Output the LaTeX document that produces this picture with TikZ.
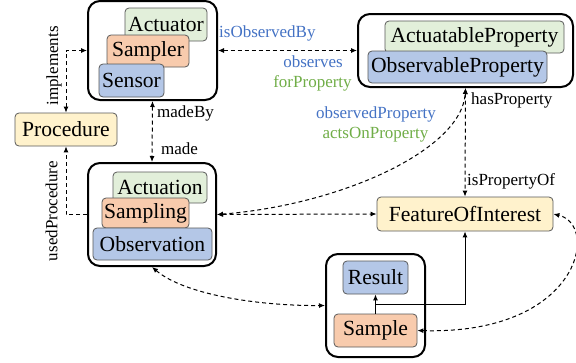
\documentclass[tikz,border=0pt]{standalone}
\usepackage{fontspec}
\setmainfont{Liberation Serif}
\newfontfamily\classfont{Liberation Serif}
\usetikzlibrary{arrows.meta,calc}
\definecolor{actGreen}{HTML}{E2EFDA}
\definecolor{smpOrange}{HTML}{F8CBAD}
\definecolor{obsBlue}{HTML}{B4C7E7}
\definecolor{procYellow}{HTML}{FFF2CC}
\definecolor{lblBlue}{HTML}{4472C4}
\definecolor{lblGreen}{HTML}{70AD47}
\begin{document}
\begin{tikzpicture}[x = 1pt, y = -1pt,
                    >={Latex[length = 6pt, width = 5pt]},
                    gnode/.style = {shape = rectangle,
                                    draw = black,
                                    line width = 2pt,
                                    rounded corners = 12pt,
                                    inner sep = 0pt},
                    cnode/.style = {shape = rectangle,
                                    draw = black!65,
                                    line width = 0.8pt,
                                    rounded corners = 4pt,
                                    inner sep = 0pt,
                                    font = \classfont\fontsize{21.6}{26}\selectfont},
                    lnode/.style = {inner sep = 0pt,
                                    font = \classfont\fontsize{17}{20}\selectfont},
                    dlink/.style = {line width = 1pt,
                                    dash pattern = on 4pt off 3pt},
                    slink/.style = {line width = 1pt, ->}]
		\useasboundingbox (0,0) rectangle (576,362);
		% groups
		\node[gnode, minimum width = 129pt, minimum height = 99pt] (sensorGroup) at (152.5,50.5) {};
		\node[gnode, minimum width = 215pt, minimum height = 73pt] (propertyGroup) at (465.5,50.5) {};
		\node[gnode, minimum width = 128pt, minimum height = 103pt] (observationGroup) at (152,214.5) {};
		\node[gnode, minimum width = 99pt, minimum height = 103pt] (sampleGroup) at (375.5,305.5) {};
		% classes
		\node[cnode, fill = actGreen, minimum width = 82pt, minimum height = 33pt] (actuator) at (166,24.5) {Actuator};
		\node[cnode, fill = smpOrange, minimum width = 82pt, minimum height = 32pt] (sampler) at (148,51) {Sampler};
		\node[cnode, fill = obsBlue, minimum width = 65pt, minimum height = 33pt] (sensor) at (131.5,80.5) {Sensor};
		\node[cnode, fill = actGreen, minimum width = 179pt, minimum height = 32pt] (actProp) at (474.5,37) {ActuatableProperty};
		\node[cnode, fill = obsBlue, minimum width = 179pt, minimum height = 32pt] (obsProp) at (457.5,67) {ObservableProperty};
		\node[cnode, fill = procYellow, minimum width = 102pt, minimum height = 33pt] (procedure) at (66,129.5) {Procedure};
		\node[cnode, fill = actGreen, minimum width = 94pt, minimum height = 31pt] (actuation) at (160,187.5) {Actuation};
		\node[cnode, fill = smpOrange, minimum width = 87pt, minimum height = 30pt] (sampling) at (145.5,213) {Sampling};
		\node[cnode, fill = obsBlue, minimum width = 119pt, minimum height = 32pt] (observation) at (152.5,244) {Observation};
		\node[cnode, fill = procYellow, minimum width = 176pt, minimum height = 34pt] (feature) at (465,214) {FeatureOfInterest};
		\node[cnode, fill = obsBlue, minimum width = 65pt, minimum height = 33pt] (result) at (375.5,277.5) {Result};
		\node[cnode, fill = smpOrange, minimum width = 83pt, minimum height = 33pt] (sample) at (375.5,330.5) {Sample};
		% links
		\draw[dlink, <->] (procedure.north) |- (sensorGroup.west);
		\draw[dlink, ->] (observationGroup.west) -| (procedure.south);
		\draw[dlink, <->] (sensorGroup.south) -- (observationGroup.north);
		\draw[dlink, <->] (sensorGroup.east) -- (propertyGroup.west);
		\draw[dlink, <->] (propertyGroup.south) -- (feature.north);
		\draw[dlink, <->] (observationGroup.east) .. controls (340,205) and (462,150) .. (propertyGroup.south);
		\draw[dlink, <->] (observationGroup.east) -- (feature.west);
		\draw[dlink, <->] (observationGroup.south) .. controls (185,295) and (260,306) .. (sampleGroup.west);
		\draw[dlink, <->] (sample.east) .. controls (580,335) and (600,225) .. (feature.east);
		\coordinate (split) at ($(result.south)!0.5!(sample.north)$);
		\draw[slink] (sample.north) -- (result.south);
		\draw[slink] (split) -| (feature.south);
		% labels
		\node[lnode, rotate = 90] (implementsLbl) at (54,66) {implements};
		\node[lnode, rotate = 90] (usedProcLbl) at (51.5,211) {usedProcedure};
		\node[lnode, anchor = west] (madeByLbl) at (157,113) {madeBy};
		\node[lnode, anchor = west] (madeLbl) at (161,149) {made};
		\node[lnode, anchor = west, text = lblBlue] (isObsByLbl) at (219,33) {isObservedBy};
		\node[lnode, text = lblBlue] (observesLbl) at (313,62) {observes};
		\node[lnode, text = lblGreen] (forPropLbl) at (312.5,83) {forProperty};
		\node[lnode, text = lblBlue] (obsPropLbl) at (376,114) {observedProperty};
		\node[lnode, text = lblGreen] (actsOnLbl) at (375.5,135) {actsOnProperty};
		\node[lnode, anchor = west] (hasPropLbl) at (471,100) {hasProperty};
		\node[lnode, anchor = west] (isPropOfLbl) at (467,181) {isPropertyOf};
	\end{tikzpicture}
\end{document}
